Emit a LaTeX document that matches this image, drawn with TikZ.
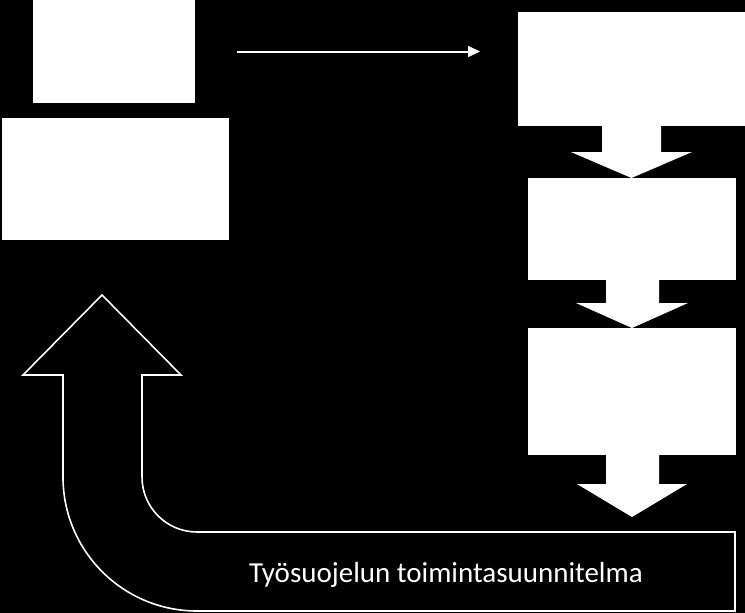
\documentclass[tikz,border=0pt]{standalone}
\usepackage{fontspec}
\setmainfont{Carlito}
\usetikzlibrary{arrows.meta,calc}
\begin{document}
\begin{tikzpicture}[x=1pt,y=1pt,
  whitebox/.style={fill=white,draw=none,inner sep=0pt,outer sep=0pt},
  blockarrow/.style={fill=white,draw=none},
  uarrow/.style={draw=white,line width=1.6pt,fill=black,line join=miter},
  thinarrow/.style={draw=white,line width=2pt,-{Triangle[length=12pt,width=11pt]}},
  label/.style={text=white,font=\fontsize{29}{34}\selectfont,inner sep=0pt}]
\fill[black] (0,0) rectangle (745,-613);
\useasboundingbox (0,0) rectangle (745,-613);
% boxes
\node[whitebox,minimum width=162pt,minimum height=103pt] (A) at (114,-51.5) {};
\node[whitebox,minimum width=227pt,minimum height=122pt] (B) at (115.5,-179) {};
\node[whitebox,minimum width=227pt,minimum height=114pt] (C) at (631.5,-69) {};
\node[whitebox,minimum width=208pt,minimum height=102pt] (D) at (632,-229) {};
\node[whitebox,minimum width=208pt,minimum height=127pt] (E) at (632,-391.5) {};
% thin arrow from A towards C
\coordinate (s1) at ($(A.east)+(42,0)$);
\coordinate (e1) at ($(A.east)+(285,0)$);
\draw[thinarrow] (s1) -- (e1);
% block arrows
\fill[blockarrow] (602,-126) -- (602,-152) -- (571,-152) -- (631.5,-178) -- (692,-152) -- (661,-152) -- (661,-126) -- cycle;
\fill[blockarrow] (606,-280) -- (606,-303) -- (576,-303) -- (632,-328) -- (688,-303) -- (659,-303) -- (659,-280) -- cycle;
\fill[blockarrow] (606,-455) -- (606,-484) -- (577,-484) -- (632,-517) -- (687,-484) -- (659,-484) -- (659,-455) -- cycle;
% U-turn arrow outline
\draw[uarrow] (102,-295) -- (181,-375) -- (142,-375) -- (142,-477)
  arc[start angle=180,end angle=270,radius=55] -- (735,-532) -- (735,-611)
  -- (197,-611) arc[start angle=270,end angle=180,radius=134] -- (63,-375) -- (23,-375) -- cycle;
\node[label,anchor=base] (T) at (446,-582) {Työsuojelun toimintasuunnitelma};
\end{tikzpicture}
\end{document}
